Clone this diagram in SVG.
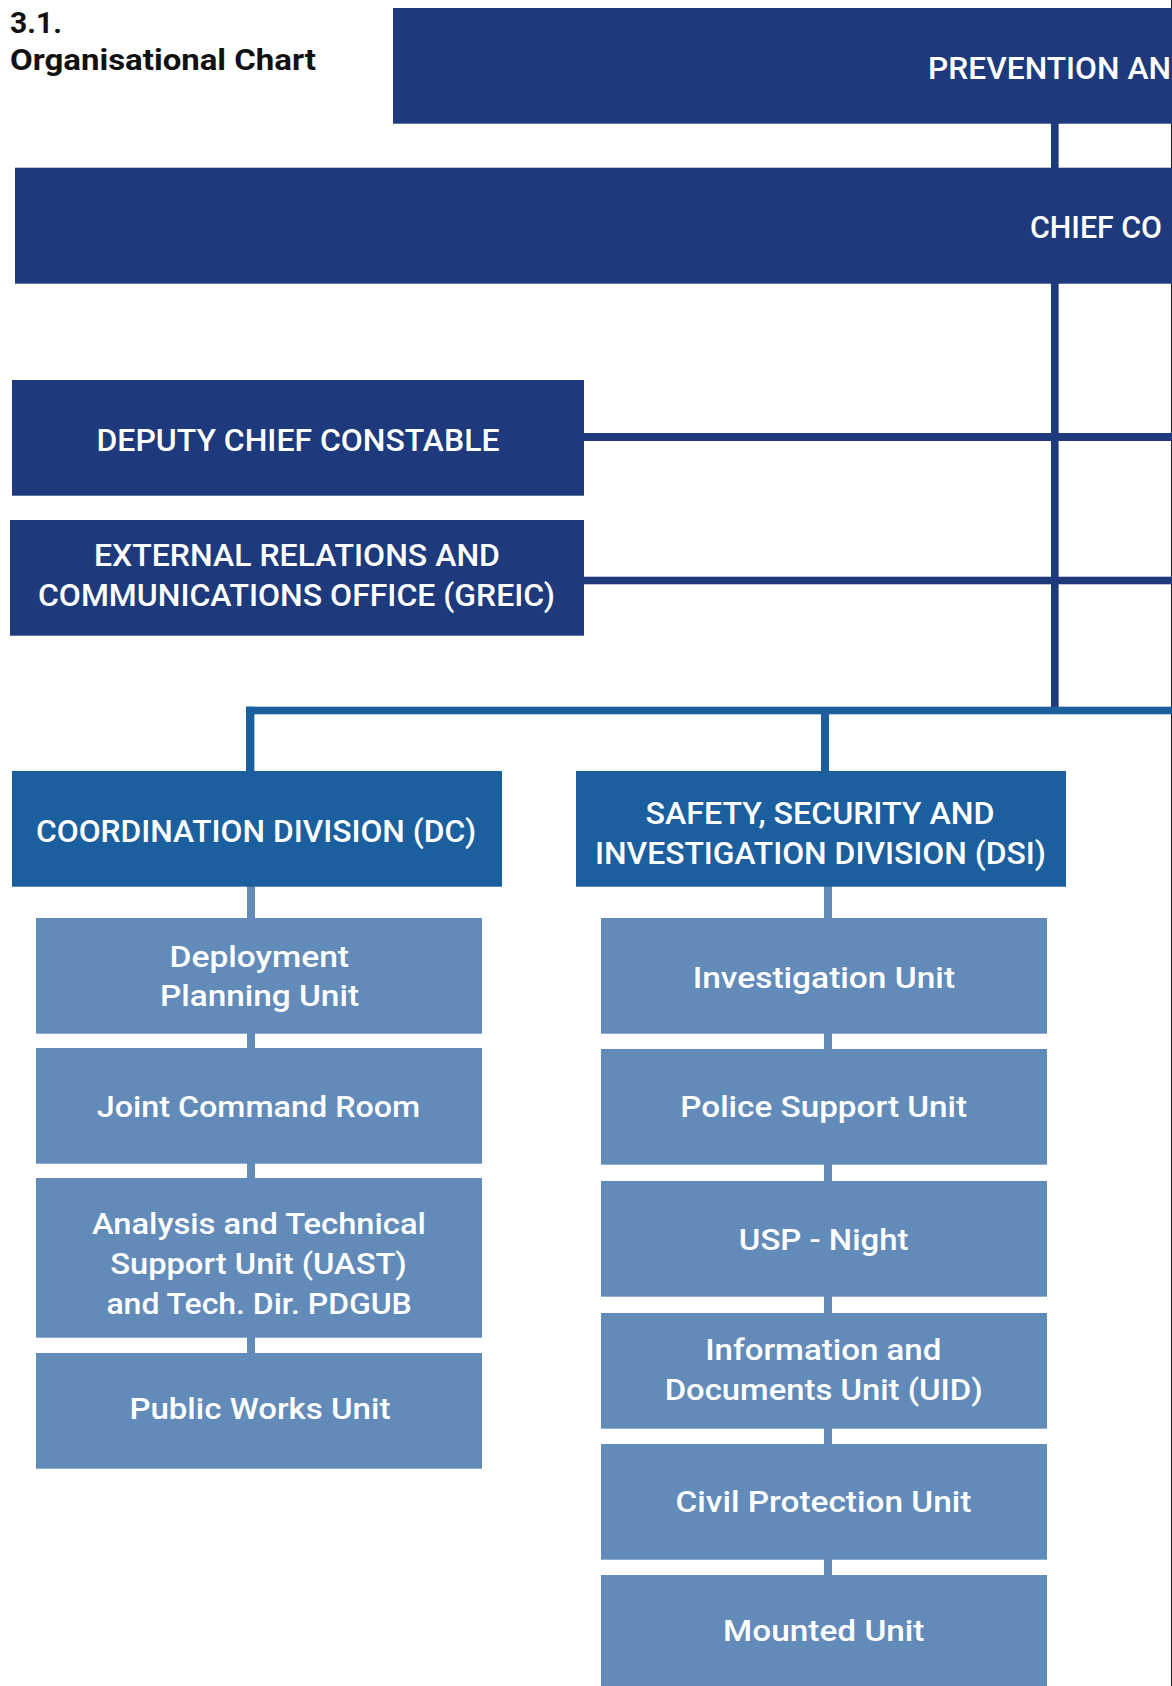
<svg xmlns="http://www.w3.org/2000/svg" width="1172" height="1686" viewBox="0 0 1172 1686">
  <style>
    text { font-family: Roboto, "Liberation Sans", Arial, sans-serif; fill: #ffffff; }
    .title { fill: #111111; font-weight: 700; font-size: 30px; }
    .cap { font-weight: 500; font-size: 31px; text-anchor: middle; }
    .capl { font-weight: 500; font-size: 31px; }
    .unit { font-weight: 500; font-size: 29px; text-anchor: middle; }
    .navy { fill: #1e3a7c; }
    .mid { fill: #1c5f9f; }
    .light { fill: #628bba; }
    .edge { stroke: #1a1a1a; stroke-width: 1; }
  </style>

  <rect x="0" y="0" width="1172" height="1686" fill="#ffffff"/>
  <line class="edge" x1="1171.5" y1="0" x2="1171.5" y2="1686"/>

  <!-- heading -->
  <g id="heading">
    <text class="title" x="10" y="33">3.1.</text>
    <text class="title" x="10" y="70" textLength="306" lengthAdjust="spacingAndGlyphs">Organisational Chart</text>
  </g>

  <!-- connectors -->
  <g id="connectors">
    <!-- top level spine -->
    <rect class="navy" x="1051" y="123" width="7.6" height="46"/>
    <rect class="navy" x="1051" y="283" width="7.6" height="425"/>
    <rect class="navy" x="584" y="433" width="588" height="8"/>
    <rect class="navy" x="584" y="576.7" width="588" height="7.6"/>
    <!-- division bar -->
    <rect class="mid" x="246" y="706.7" width="926" height="7.6"/>
    <rect class="mid" x="246" y="706.7" width="8.4" height="65"/>
    <rect class="mid" x="821" y="710" width="8" height="62"/>
    <!-- unit spines -->
    <rect class="light" x="247" y="886" width="8" height="468"/>
    <rect class="light" x="824" y="886" width="8" height="690"/>
  </g>

  <g id="prevention">
    <rect class="navy" x="393" y="8" width="779" height="115.7"/>
    <text class="capl" x="928" y="79.3" textLength="243" lengthAdjust="spacingAndGlyphs">PREVENTION AN</text>
  </g>

  <g id="chief-constable">
    <rect class="navy" x="15" y="167.7" width="1157" height="116"/>
    <text class="capl" x="1030" y="238" textLength="132" lengthAdjust="spacingAndGlyphs">CHIEF CO</text>
  </g>

  <g id="deputy">
    <rect class="navy" x="12" y="380" width="572" height="115.7"/>
    <text class="cap" x="298" y="450.7" textLength="403" lengthAdjust="spacingAndGlyphs">DEPUTY CHIEF CONSTABLE</text>
  </g>

  <g id="greic">
    <rect class="navy" x="10" y="520" width="574" height="115.7"/>
    <text class="cap" x="297" y="565.7" textLength="406" lengthAdjust="spacingAndGlyphs">EXTERNAL RELATIONS AND</text>
    <text class="cap" x="296.5" y="605.7" textLength="517" lengthAdjust="spacingAndGlyphs">COMMUNICATIONS OFFICE (GREIC)</text>
  </g>

  <g id="dc">
    <rect class="mid" x="12" y="771" width="490" height="115.7"/>
    <text class="cap" x="256" y="841.7" textLength="440" lengthAdjust="spacingAndGlyphs">COORDINATION DIVISION (DC)</text>
  </g>

  <g id="dsi">
    <rect class="mid" x="576" y="771" width="490" height="115.7"/>
    <text class="cap" x="820" y="824.3" textLength="349" lengthAdjust="spacingAndGlyphs">SAFETY, SECURITY AND</text>
    <text class="cap" x="820.5" y="864" textLength="451" lengthAdjust="spacingAndGlyphs">INVESTIGATION DIVISION (DSI)</text>
  </g>

  <!-- coordination division units -->
  <g id="deployment-planning">
    <rect class="light" x="36" y="918" width="446" height="115.7"/>
    <text class="unit" x="259.3" y="966.7" textLength="179.5" lengthAdjust="spacingAndGlyphs">Deployment</text>
    <text class="unit" x="259.5" y="1006" textLength="199" lengthAdjust="spacingAndGlyphs">Planning Unit</text>
  </g>
  <g id="joint-command-room">
    <rect class="light" x="36" y="1048" width="446" height="115.7"/>
    <text class="unit" x="258.5" y="1116.7" textLength="323.4" lengthAdjust="spacingAndGlyphs">Joint Command Room</text>
  </g>
  <g id="uast">
    <rect class="light" x="36" y="1178" width="446" height="159.7"/>
    <text class="unit" x="258.9" y="1234" textLength="334" lengthAdjust="spacingAndGlyphs">Analysis and Technical</text>
    <text class="unit" x="258.5" y="1273.7" textLength="296.6" lengthAdjust="spacingAndGlyphs">Support Unit (UAST)</text>
    <text class="unit" x="259.1" y="1314" textLength="305.4" lengthAdjust="spacingAndGlyphs">and Tech. Dir. PDGUB</text>
  </g>
  <g id="public-works">
    <rect class="light" x="36" y="1353" width="446" height="115.7"/>
    <text class="unit" x="259.9" y="1419" textLength="261" lengthAdjust="spacingAndGlyphs">Public Works Unit</text>
  </g>

  <!-- safety, security and investigation division units -->
  <g id="investigation">
    <rect class="light" x="601" y="918" width="446" height="115.7"/>
    <text class="unit" x="823.9" y="987.7" textLength="262.3" lengthAdjust="spacingAndGlyphs">Investigation Unit</text>
  </g>
  <g id="police-support">
    <rect class="light" x="601" y="1049" width="446" height="115.7"/>
    <text class="unit" x="823.7" y="1117" textLength="286.9" lengthAdjust="spacingAndGlyphs">Police Support Unit</text>
  </g>
  <g id="usp-night">
    <rect class="light" x="601" y="1181" width="446" height="115.7"/>
    <text class="unit" x="823.7" y="1250" textLength="169.7" lengthAdjust="spacingAndGlyphs">USP - Night</text>
  </g>
  <g id="uid">
    <rect class="light" x="601" y="1313" width="446" height="115.7"/>
    <text class="unit" x="823.3" y="1360" textLength="236.1" lengthAdjust="spacingAndGlyphs">Information and</text>
    <text class="unit" x="823.7" y="1400" textLength="318.1" lengthAdjust="spacingAndGlyphs">Documents Unit (UID)</text>
  </g>
  <g id="civil-protection">
    <rect class="light" x="601" y="1444" width="446" height="115.7"/>
    <text class="unit" x="823.5" y="1511.7" textLength="295.9" lengthAdjust="spacingAndGlyphs">Civil Protection Unit</text>
  </g>
  <g id="mounted">
    <rect class="light" x="601" y="1575" width="446" height="111"/>
    <text class="unit" x="823.8" y="1641" textLength="201.4" lengthAdjust="spacingAndGlyphs">Mounted Unit</text>
  </g>
</svg>
